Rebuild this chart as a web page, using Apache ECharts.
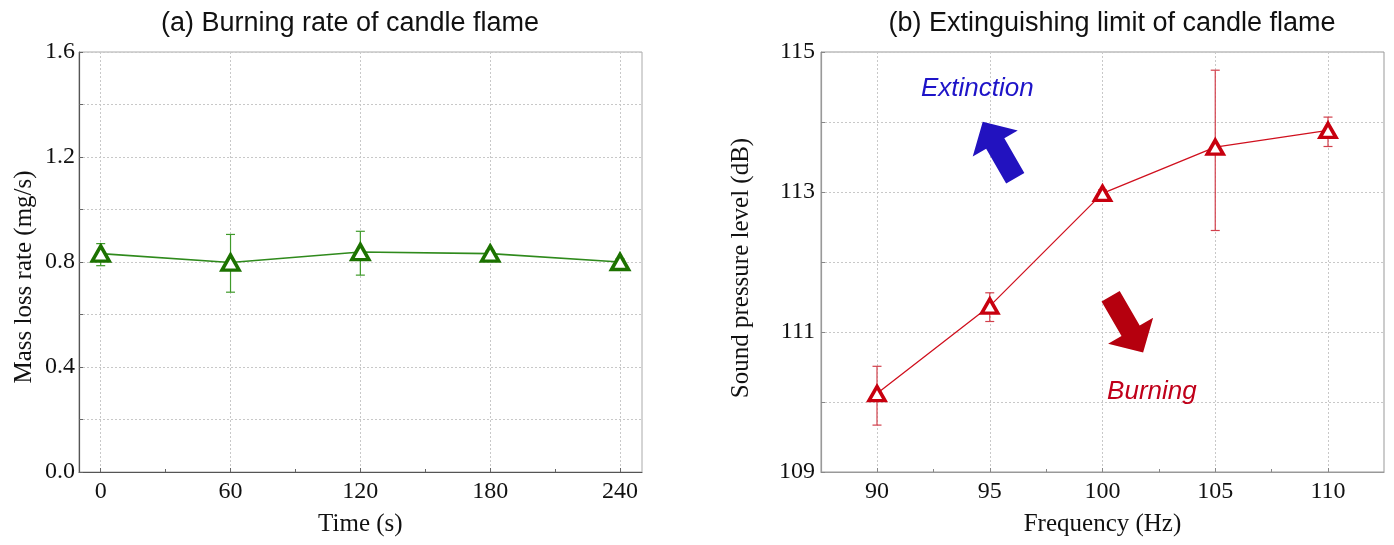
<!DOCTYPE html>
<html><head><meta charset="utf-8">
<script src="https://cdn.jsdelivr.net/npm/echarts@6/dist/echarts.min.js"></script>
<style>html,body{margin:0;padding:0;background:#fff}#c{width:1394px;height:545px}</style>
</head><body><div id="c"></div>
<script>
// ---- (a) Burning rate of candle flame ----
const timeS = [0, 60, 120, 180, 240];
const massLossRate = [0.832, 0.798, 0.838, 0.832, 0.800];
const massLossLow  = [0.786, 0.685, 0.750, 0.820, 0.785];
const massLossHigh = [0.870, 0.905, 0.917, 0.844, 0.812];
const rateTicks = [0, 0.4, 0.8, 1.2, 1.6];

// ---- (b) Extinguishing limit of candle flame ----
const freqHz = [90, 95, 100, 105, 110];
const splDb   = [110.12, 111.37, 112.98, 113.64, 113.88];
const splLow  = [109.67, 111.15, 112.93, 112.45, 113.65];
const splHigh = [110.51, 111.56, 113.03, 114.74, 114.07];
const splTicks = [109, 111, 113, 115];

const serif = "'Liberation Serif','Times New Roman',serif";
const sans = "'Liberation Sans',Arial,sans-serif";
const gridLine = {show: true, lineStyle: {color: '#c8c8c8', type: [2, 2], width: 1}};

function errorBarItem(color) {
  return function (params, api) {
    const x = api.value(0), lo = api.value(1), hi = api.value(2);
    const pLo = api.coord([x, lo]), pHi = api.coord([x, hi]);
    const hw = 4.5;
    const style = {stroke: color, lineWidth: 1.2};
    return {type: 'group', children: [
      {type: 'line', shape: {x1: pLo[0], y1: pLo[1], x2: pHi[0], y2: pHi[1]}, style: style},
      {type: 'line', shape: {x1: pHi[0] - hw, y1: pHi[1], x2: pHi[0] + hw, y2: pHi[1]}, style: style},
      {type: 'line', shape: {x1: pLo[0] - hw, y1: pLo[1], x2: pLo[0] + hw, y2: pLo[1]}, style: style}
    ]};
  };
}

const arrowPath = 'path://M26,0 L52,25 L36.5,25 L36.5,65 L15.5,65 L15.5,25 L0,25 Z';

const option = {
  backgroundColor: '#fff',
  animation: false,
  title: [
    {text: '(a) Burning rate of candle flame', left: 345, top: 5, textAlign: 'center',
     textStyle: {fontFamily: sans, fontSize: 27, fontWeight: 'normal', color: '#111'}},
    {text: '(b) Extinguishing limit of candle flame', left: 1107, top: 5, textAlign: 'center',
     textStyle: {fontFamily: sans, fontSize: 27, fontWeight: 'normal', color: '#111'}}
  ],
  grid: [
    {left: 79, right: 752, top: 52, bottom: 73, show: true, borderColor: '#aaa', borderWidth: 1},
    {left: 100.7, right: 774, top: 52, bottom: 73},
    {left: 821, right: 10, top: 52, bottom: 73, show: true, borderColor: '#999', borderWidth: 1},
    {left: 877, right: 66, top: 52, bottom: 73}
  ],
  xAxis: [
    {gridIndex: 0, type: 'value', min: -10, max: 250,
     axisLine: {show: true, onZero: false, lineStyle: {color: '#555', width: 1.2}},
     axisTick: {show: false}, axisLabel: {show: false}, splitLine: {show: false}},
    {gridIndex: 1, type: 'value', min: 0, max: 240, interval: 60,
     name: 'Time (s)', nameLocation: 'middle', nameGap: 40,
     nameTextStyle: {fontFamily: serif, fontSize: 25, color: '#111'},
     axisLine: {show: false, onZero: false},
     axisTick: {show: true, inside: true, length: 4, lineStyle: {color: '#666'}},
     minorTick: {show: true, splitNumber: 2, length: 3, lineStyle: {color: '#666'}},
     axisLabel: {fontFamily: serif, fontSize: 24, color: '#111', margin: 8},
     splitLine: gridLine},
    {gridIndex: 2, type: 'value', min: 87.5, max: 112.5,
     axisLine: {show: true, onZero: false, lineStyle: {color: '#999', width: 1.2}},
     axisTick: {show: false}, axisLabel: {show: false}, splitLine: {show: false}},
    {gridIndex: 3, type: 'value', min: 90, max: 110, interval: 5,
     name: 'Frequency (Hz)', nameLocation: 'middle', nameGap: 40,
     nameTextStyle: {fontFamily: serif, fontSize: 25, color: '#111'},
     axisLine: {show: false, onZero: false},
     axisTick: {show: true, inside: true, length: 4, lineStyle: {color: '#888'}},
     minorTick: {show: true, splitNumber: 2, length: 3, lineStyle: {color: '#888'}},
     axisLabel: {fontFamily: serif, fontSize: 24, color: '#111', margin: 8},
     splitLine: gridLine}
  ],
  yAxis: [
    {gridIndex: 0, type: 'value', min: rateTicks[0], max: rateTicks[rateTicks.length - 1], interval: 0.4,
     name: 'Mass loss rate (mg/s)', nameLocation: 'middle', nameGap: 42,
     nameTextStyle: {fontFamily: serif, fontSize: 25, color: '#111', padding: [0, 30, 0, 0]},
     axisLine: {show: true, onZero: false, lineStyle: {color: '#555', width: 1.2}},
     axisTick: {show: true, inside: true, length: 4, lineStyle: {color: '#666'}},
     minorTick: {show: true, splitNumber: 2, length: 4, lineStyle: {color: '#666'}},
     axisLabel: {fontFamily: serif, fontSize: 24, color: '#111', margin: 4,
                 formatter: v => v.toFixed(1)},
     splitLine: gridLine,
     minorSplitLine: gridLine},
    {gridIndex: 1, type: 'value', min: rateTicks[0], max: rateTicks[rateTicks.length - 1], show: false,
     axisLine: {onZero: false}},
    {gridIndex: 2, type: 'value', min: splTicks[0], max: splTicks[splTicks.length - 1], interval: 1,
     name: 'Sound pressure level (dB)', nameLocation: 'middle', nameGap: 67,
     nameTextStyle: {fontFamily: serif, fontSize: 25, color: '#111', padding: [0, 12, 0, 0]},
     axisLine: {show: true, onZero: false, lineStyle: {color: '#999', width: 1.2}},
     axisTick: {show: true, inside: true, length: 4, lineStyle: {color: '#888'}},
     axisLabel: {fontFamily: serif, fontSize: 24, color: '#111', margin: 6,
                 formatter: v => (splTicks.indexOf(v) >= 0 ? String(v) : '')},
     splitLine: gridLine},
    {gridIndex: 3, type: 'value', min: splTicks[0], max: splTicks[splTicks.length - 1], show: false,
     axisLine: {onZero: false}}
  ],
  series: [
    {type: 'custom', xAxisIndex: 1, yAxisIndex: 1, z: 2,
     renderItem: errorBarItem('#3f9a2a'),
     encode: {x: 0, y: [1, 2]},
     data: timeS.map((t, i) => [t, massLossLow[i], massLossHigh[i]])},
    {type: 'line', xAxisIndex: 1, yAxisIndex: 1, z: 3,
     data: timeS.map((t, i) => [t, massLossRate[i]]),
     lineStyle: {color: '#2f8a1c', width: 1.6},
     symbol: 'triangle', symbolSize: [17, 15],
     itemStyle: {color: '#fff', borderColor: '#1c7200', borderWidth: 3.5}},
    {type: 'custom', xAxisIndex: 3, yAxisIndex: 3, z: 2,
     renderItem: errorBarItem('#d2404c'),
     encode: {x: 0, y: [1, 2]},
     data: freqHz.map((f, i) => [f, splLow[i], splHigh[i]])},
    {type: 'line', xAxisIndex: 3, yAxisIndex: 3, z: 3,
     data: freqHz.map((f, i) => [f, splDb[i]]),
     lineStyle: {color: '#d0101e', width: 1.3},
     symbol: 'triangle', symbolSize: [16, 14],
     itemStyle: {color: '#fff', borderColor: '#c8000f', borderWidth: 3.5},
     markPoint: {
       silent: true,
       data: [
         {coord: [95.41, 113.6], symbol: arrowPath, symbolSize: [52, 65], symbolRotate: 30,
          itemStyle: {color: '#2212bf', borderWidth: 0}, label: {show: false}},
         {coord: [101.08, 111.11], symbol: arrowPath, symbolSize: [52, 65], symbolRotate: -150,
          itemStyle: {color: '#b5000e', borderWidth: 0}, label: {show: false}},
         {coord: [94.45, 114.48], symbol: 'rect', symbolSize: 1,
          itemStyle: {color: 'rgba(0,0,0,0)', borderWidth: 0},
          label: {show: true, position: 'inside', formatter: 'Extinction', color: '#1e14c8',
                  fontFamily: sans, fontStyle: 'italic', fontSize: 26}},
         {coord: [102.19, 110.15], symbol: 'rect', symbolSize: 1,
          itemStyle: {color: 'rgba(0,0,0,0)', borderWidth: 0},
          label: {show: true, position: 'inside', formatter: 'Burning', color: '#c0001a',
                  fontFamily: sans, fontStyle: 'italic', fontSize: 26}}
       ]
     }}
  ]
};

const chart = echarts.init(document.getElementById('c'), null, {renderer: 'canvas'});
chart.setOption(option);
</script>
</body></html>
